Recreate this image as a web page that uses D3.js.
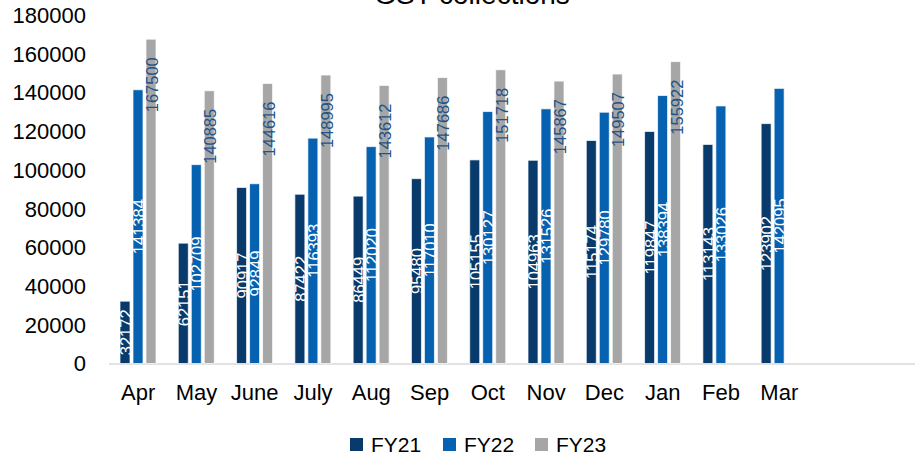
<!DOCTYPE html>
<html>
<head>
<meta charset="utf-8">
<script src="https://cdn.jsdelivr.net/npm/d3@7"></script>
<style>
  body { margin: 0; background: #fff; }
  svg text { font-family: "Liberation Sans", Arial, sans-serif; }
</style>
</head>
<body>
<svg id="chart" width="915" height="456"></svg>
<script>
// month labels and series values (Rs crore)
var months = ["Apr","May","June","July","Aug","Sep","Oct","Nov","Dec","Jan","Feb","Mar"];
var seriesNames = ["FY21","FY22","FY23"];
var fy21 = [32172, 62151, 90917, 87422, 86449, 95480, 105155, 104963, 115174, 119847, 113143, 123902];
var fy22 = [141384, 102709, 92849, 116393, 112020, 117010, 130127, 131526, 129780, 138394, 133026, 142095];
var fy23 = [167500, 140885, 144616, 148995, 143612, 147686, 151718, 145867, 149507, 155922];
var yTicks = [0, 20000, 40000, 60000, 80000, 100000, 120000, 140000, 160000, 180000];

var colors = { FY21: "#083a6c", FY22: "#0661b0", FY23: "#a6a6a6" };
var labelColors = { FY21: "#ffffff", FY22: "#ffffff", FY23: "#1f5389" };

var svg = d3.select("#chart");

// 14 slots on the category axis, the last two stay empty
var x = d3.scaleBand()
    .domain(d3.range(14))
    .range([109, 925]);

var x1 = d3.scaleBand()
    .domain(seriesNames)
    .range([11, 47])
    .paddingInner(0.23);

var y = d3.scaleLinear()
    .domain([0, 180000])
    .range([363.5, 15]);

var values = { FY21: fy21, FY22: fy22, FY23: fy23 };

// title (mostly cut off at the top edge)
svg.append("text")
    .attr("x", 472)
    .attr("y", 4)
    .attr("text-anchor", "middle")
    .style("font-size", "28px")
    .style("fill", "#000")
    .text("GST collections");

// y axis labels
svg.append("g")
    .selectAll("text")
    .data(yTicks)
  .enter().append("text")
    .attr("x", 86)
    .attr("y", d => y(d))
    .attr("dy", "0.36em")
    .attr("text-anchor", "end")
    .style("font-size", "22px")
    .style("fill", "#000")
    .text(d => d);

// baseline
svg.append("line")
    .attr("x1", 109)
    .attr("x2", 915)
    .attr("y1", y(0) + 0.5)
    .attr("y2", y(0) + 0.5)
    .style("stroke", "#d9d9d9")
    .style("stroke-width", 1.5);

// bars
var rows = [];
seriesNames.forEach(function(s){
  values[s].forEach(function(v, i){
    rows.push({ series: s, month: i, value: v });
  });
});

var bars = svg.append("g").attr("id", "bars");

bars.selectAll("rect")
    .data(rows)
  .enter().append("rect")
    .attr("x", d => x(d.month) + x1(d.series))
    .attr("width", x1.bandwidth())
    .attr("y", d => y(d.value))
    .attr("height", d => y(0) - y(d.value))
    .style("fill", d => colors[d.series])
    .style("stroke", "rgba(255,255,255,0.7)")
    .style("stroke-width", 1);

// data labels, rotated
svg.append("g")
    .selectAll("text")
    .data(rows)
  .enter().append("text")
    .attr("transform", function(d){
      var cx = x(d.month) + x1(d.series) + x1.bandwidth() / 2 + 1;
      var cy = d.series == "FY23" ? y(d.value) + 18 : (y(d.value) + y(0)) / 2;
      return "translate(" + cx + "," + cy + ") rotate(-90)";
    })
    .attr("dy", "0.36em")
    .attr("text-anchor", d => d.series == "FY23" ? "end" : "middle")
    .style("font-size", "16.5px")
    .style("fill", d => labelColors[d.series])
    .text(d => d.value);

// month labels
svg.append("g")
    .selectAll("text")
    .data(months)
  .enter().append("text")
    .attr("x", (d, i) => x(i) + x.bandwidth() / 2)
    .attr("y", 400)
    .attr("text-anchor", "middle")
    .style("font-size", "22px")
    .style("fill", "#000")
    .text(d => d);

// legend
var legendX = [350, 443, 535];
var legend = svg.append("g")
    .selectAll("g")
    .data(seriesNames)
  .enter().append("g")
    .attr("transform", (d, i) => "translate(" + legendX[i] + ",438)");

legend.append("rect")
    .attr("width", 13)
    .attr("height", 13)
    .style("fill", d => colors[d]);

legend.append("text")
    .attr("x", 21)
    .attr("y", 14)
    .style("font-size", "21px")
    .style("fill", "#000")
    .text(d => d);
</script>
</body>
</html>
